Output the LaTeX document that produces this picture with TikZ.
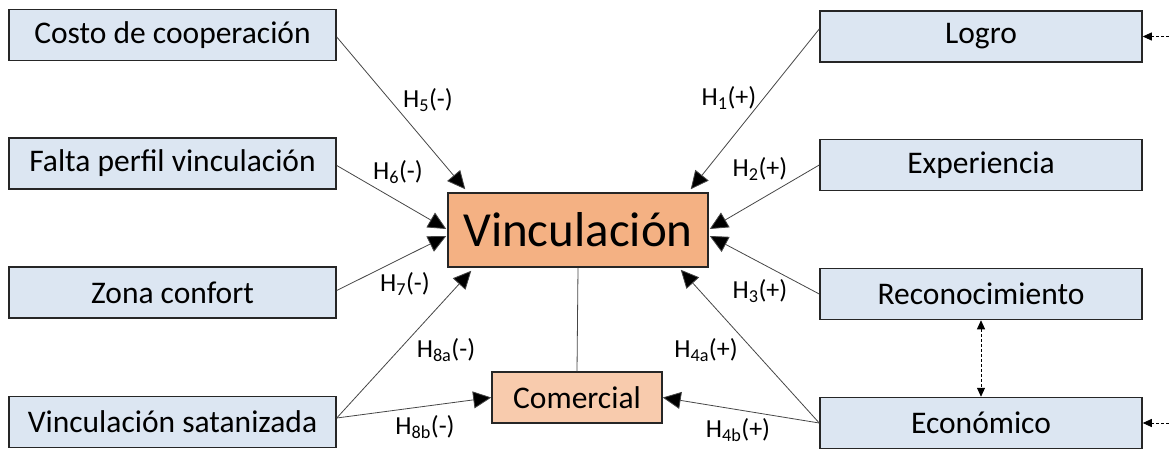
\documentclass[tikz,border=0pt]{standalone}
\usepackage{fontspec}
\setmainfont{Carlito}
\usetikzlibrary{arrows.meta,calc}
\definecolor{boxblue}{RGB}{220,230,242}
\definecolor{vorange}{RGB}{244,177,131}
\definecolor{corange}{RGB}{248,203,173}
\definecolor{linegray}{RGB}{70,70,70}
\tikzset{
  leftbox/.style={draw=black!85,line width=1.5pt,fill=boxblue,minimum width=327pt,minimum height=51pt,inner sep=0pt,font=\fontsize{31.5}{36}\selectfont},
  rightbox/.style={leftbox,minimum width=322pt},
  mainbox/.style={draw=black!85,line width=1.5pt,fill=vorange,minimum width=260pt,minimum height=74pt,inner sep=0pt,font=\fontsize{49}{56}\selectfont},
  combox/.style={draw=black!85,line width=1.5pt,fill=corange,minimum width=170pt,minimum height=51pt,inner sep=0pt,font=\fontsize{31.5}{36}\selectfont},
  conn/.style={draw=linegray,line width=0.8pt,-{Triangle[length=18pt,width=17pt,fill=black]}},
  plain/.style={draw=linegray,line width=0.8pt},
  dashconn/.style={draw=black,line width=0.8pt,dashed,dash pattern=on 3pt off 2pt,-{Triangle[length=9pt,width=8pt]}},
  dashboth/.style={dashconn,{Triangle[length=9pt,width=8pt]}-{Triangle[length=9pt,width=8pt]}},
  hlab/.style={inner sep=0pt,font=\fontsize{26}{30}\selectfont}
}
\begin{document}
\begin{tikzpicture}[x=1pt,y=-1pt]
\useasboundingbox (0,0) rectangle (1169,449);
% left boxes
\node[leftbox] (c1) at (172.5,35) {Costo de cooperación};
\node[leftbox] (c2) at (172.5,163.5) {Falta perfil vinculación};
\node[leftbox] (c3) at (172.5,292.5) {Zona confort};
\node[leftbox] (c4) at (172.5,422) {Vinculación satanizada};
% right boxes
\node[rightbox] (lo) at (981,36.5) {Logro};
\node[rightbox] (ex) at (981,165) {Experiencia};
\node[rightbox] (rc) at (981,294) {Reconocimiento};
\node[rightbox] (ec) at (981,423) {Económico};
% center
\node[mainbox] (v) at (578,230) {Vinculación};
\node[combox] (cm) at (577,397.5) {Comercial};
% target coordinates
\coordinate (t5) at ([xshift=18pt,yshift=3pt]v.north west);
\coordinate (t6) at ([xshift=-1pt,yshift=1pt]v.west);
\coordinate (t7) at ([xshift=-1pt,yshift=-6pt]v.west);
\coordinate (t8a) at ([xshift=24pt,yshift=-3pt]v.south west);
\coordinate (t1) at ([xshift=-18pt,yshift=3pt]v.north east);
\coordinate (t2) at ([xshift=1pt,yshift=1pt]v.east);
\coordinate (t3) at ([xshift=1pt,yshift=-6pt]v.east);
\coordinate (t4a) at ([xshift=-28pt,yshift=-2pt]v.south east);
\coordinate (s1) at ([yshift=7.5pt]lo.west);
\coordinate (s4) at (ec.west);
\coordinate (s8) at ([yshift=4pt]c4.east);
\coordinate (d1) at (1169,36.5);
\coordinate (d2) at (1169,423);
% connectors
\draw[conn] ([yshift=-2pt]c1.east) -- (t5);
\draw[conn] ([yshift=-2pt]c2.east) -- (t6);
\draw[conn] ([yshift=2pt]c3.east) -- (t7);
\draw[conn] (s8) -- (t8a);
\draw[conn] (s8) -- (cm.west);
\draw[conn] (s1) -- (t1);
\draw[conn] (ex.west) -- (t2);
\draw[conn] (rc.west) -- (t3);
\draw[conn] (s4) -- (t4a);
\draw[conn] (s4) -- (cm.east);
\draw[plain] (cm.north) -- (v.south);
\draw[dashboth] (rc.south) -- (ec.north);
\draw[dashconn] (d1) -- (lo.east);
\draw[dashconn] (d2) -- (ec.east);
% labels
\node[hlab] (l5) at (428,100) {H\textsubscript{5}(-)};
\node[hlab] (l6) at (398,172) {H\textsubscript{6}(-)};
\node[hlab] (l7) at (405,284) {H\textsubscript{7}(-)};
\node[hlab] (l8a) at (446,350) {H\textsubscript{8a}(-)};
\node[hlab] (l8b) at (425,427) {H\textsubscript{8b}(-)};
\node[hlab] (l1) at (729,98) {H\textsubscript{1}(+)};
\node[hlab] (l2) at (760,169) {H\textsubscript{2}(+)};
\node[hlab] (l3) at (760,291) {H\textsubscript{3}(+)};
\node[hlab] (l4a) at (706,350) {H\textsubscript{4a}(+)};
\node[hlab] (l4b) at (738,430) {H\textsubscript{4b}(+)};
\end{tikzpicture}
\end{document}
